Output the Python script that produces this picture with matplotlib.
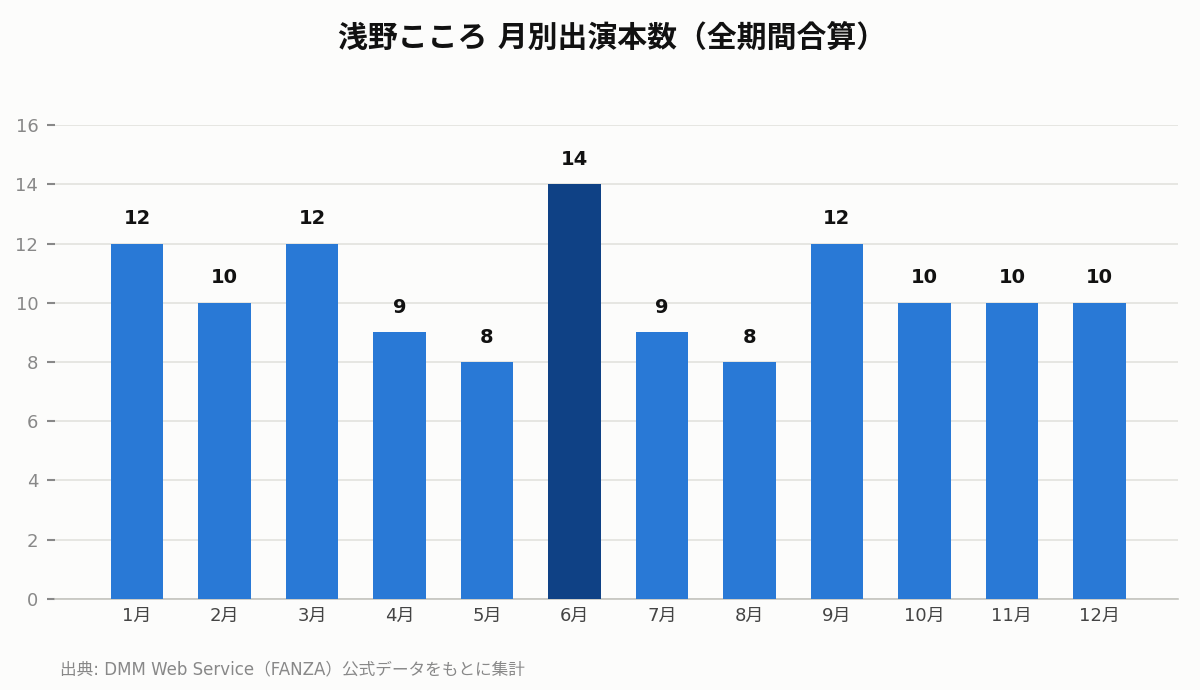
import matplotlib.pyplot as plt

plt.rcParams['font.family'] = ['DejaVu Sans', 'Noto Sans CJK JP']

months = ["1月", "2月", "3月", "4月", "5月", "6月",
          "7月", "8月", "9月", "10月", "11月", "12月"]
counts = [12, 10, 12, 9, 8, 14, 9, 8, 12, 10, 10, 10]
yticks = [0, 2, 4, 6, 8, 10, 12, 14, 16]

bg = "#fcfcfb"
base_color = "#2979d6"
peak_color = "#0f4185"
peak = max(counts)
colors = [peak_color if c == peak else base_color for c in counts]

fig = plt.figure(figsize=(12, 6.9), dpi=100, facecolor=bg)
ax = fig.add_axes([0.0458, 0.1319, 0.9359, 0.6869], facecolor=bg)

x = range(len(months))
bars = ax.bar(x, counts, width=0.6, color=colors, zorder=3)
for xi, c in zip(x, counts):
    ax.annotate(str(c), (xi, c), xytext=(0, 11), textcoords="offset points",
                ha="center", va="bottom", fontsize=14, fontweight="bold",
                color="#111111")

ax.set_xlim(-0.94, 11.9)
ax.set_ylim(0, 16)
ax.set_yticks(yticks)
ax.set_xticks(list(x))
ax.set_xticklabels(months)
ax.grid(axis="y", color="#e2e2de", linewidth=1.2, zorder=0)
for s in ["top", "right", "left"]:
    ax.spines[s].set_visible(False)
ax.spines["bottom"].set_color("#c4c4be")
ax.spines["bottom"].set_linewidth(1.2)
ax.tick_params(axis="y", colors="#888888", labelsize=13, length=6, width=1.5, pad=6)
ax.tick_params(axis="x", length=0, labelsize=13, labelcolor="#444444", pad=6)

fig.text(0.51, 0.945, "浅野こころ 月別出演本数（全期間合算）", ha="center", va="center",
         fontsize=21.5, fontweight="bold", color="#111111")
fig.text(0.05, 0.03, "出典: DMM Web Service（FANZA）公式データをもとに集計",
         ha="left", va="center", fontsize=12, color="#888888")

fig.savefig("out.png", dpi=100, facecolor=bg)
